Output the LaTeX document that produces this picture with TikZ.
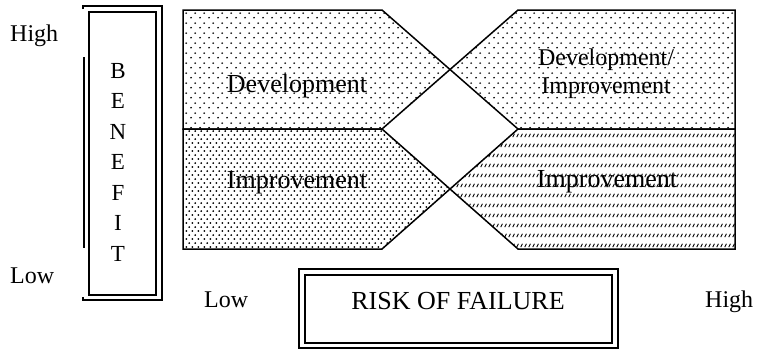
\documentclass[tikz,border=0pt]{standalone}
\usepackage{fontspec}
\setmainfont{Liberation Serif}
\usepackage{tikz}
\usetikzlibrary{patterns}

% fills for the four regions
\pgfdeclarepatternformonly{sparse dots}{\pgfqpoint{0pt}{0pt}}{\pgfqpoint{8.6pt}{10pt}}{\pgfqpoint{8.6pt}{10pt}}{
  \pgfpathcircle{\pgfqpoint{2.15pt}{2.5pt}}{1pt}
  \pgfpathcircle{\pgfqpoint{6.45pt}{7.5pt}}{1pt}
  \pgfusepath{fill}
}
\pgfdeclarepatternformonly{dense dots}{\pgfqpoint{0pt}{0pt}}{\pgfqpoint{5.8pt}{8.4pt}}{\pgfqpoint{5.8pt}{8.4pt}}{
  \pgfpathcircle{\pgfqpoint{1.45pt}{2.1pt}}{1pt}
  \pgfpathcircle{\pgfqpoint{4.35pt}{6.3pt}}{1pt}
  \pgfusepath{fill}
}
\pgfdeclarepatternformonly{dash hatch}{\pgfqpoint{0pt}{0pt}}{\pgfqpoint{4pt}{10pt}}{\pgfqpoint{4pt}{10pt}}{
  \pgfsetlinewidth{1.1pt}
  \pgfpathmoveto{\pgfqpoint{0.9pt}{3.2pt}}
  \pgfpathlineto{\pgfqpoint{3.1pt}{6.8pt}}
  \pgfusepath{stroke}
}

\tikzset{
  region/.style={line width=1.5pt, line join=miter},
  frame/.style={line width=1.5pt},
  label/.style={inner sep=0pt, font=\fontsize{26}{30}\selectfont},
}

\begin{document}
\begin{tikzpicture}[x=1pt, y=-1pt]
  \useasboundingbox (0,0) rectangle (759,349);

  % Development (low risk)
  \draw[region, pattern=sparse dots] (183,10) -- (382,10) -- (450,69.5) -- (382,129) -- (183,129) -- cycle;
  % Improvement (low risk)
  \draw[region, pattern=dense dots]  (183,129) -- (382,129) -- (450,189) -- (382,249) -- (183,249) -- cycle;
  % Development/Improvement (high risk)
  \draw[region, pattern=sparse dots] (518,10) -- (735,10) -- (735,129) -- (518,129) -- (450,69.5) -- cycle;
  % Improvement (high risk)
  \draw[region, pattern=dash hatch]  (518,129) -- (735,129) -- (735,249) -- (518,249) -- (450,189) -- cycle;

  \node[label, anchor=base] (devLow) at (297,92)  {Development};
  \node[label, anchor=base] (impLow) at (297,188) {Improvement};
  \node[label, anchor=base, align=center, font=\fontsize{24}{28}\selectfont] (devHigh) at (606,93) {Development/\\Improvement};
  \node[label, anchor=base] (impHigh) at (607,187) {Improvement};

  % Benefit axis
  \draw[frame] (83,9) -- (83,6) -- (162,6) -- (162,300) -- (83,300) -- (83,297);
  \draw[frame] (84,57) -- (84,248);
  \draw[frame] (89,12) rectangle (156,295);
  \node[label, anchor=north, align=center, font=\fontsize{23}{30.5}\selectfont] (benefit) at (118,63) {B\\E\\N\\E\\F\\I\\T};
  \node[label, anchor=base west, font=\fontsize{24}{28}\selectfont] (benHigh) at (10,41)  {High};
  \node[label, anchor=base west, font=\fontsize{24}{28}\selectfont] (benLow)  at (10,283) {Low};

  % Risk axis
  \draw[frame] (299,269) rectangle (618,348);
  \draw[frame] (305,275) rectangle (612,343);
  \node[label, anchor=base] (risk) at (458,309) {RISK OF FAILURE};
  \node[label, anchor=base west, font=\fontsize{24}{28}\selectfont] (riskLow)  at (204,307) {Low};
  \node[label, anchor=base west, font=\fontsize{24}{28}\selectfont] (riskHigh) at (705,307) {High};
\end{tikzpicture}
\end{document}
